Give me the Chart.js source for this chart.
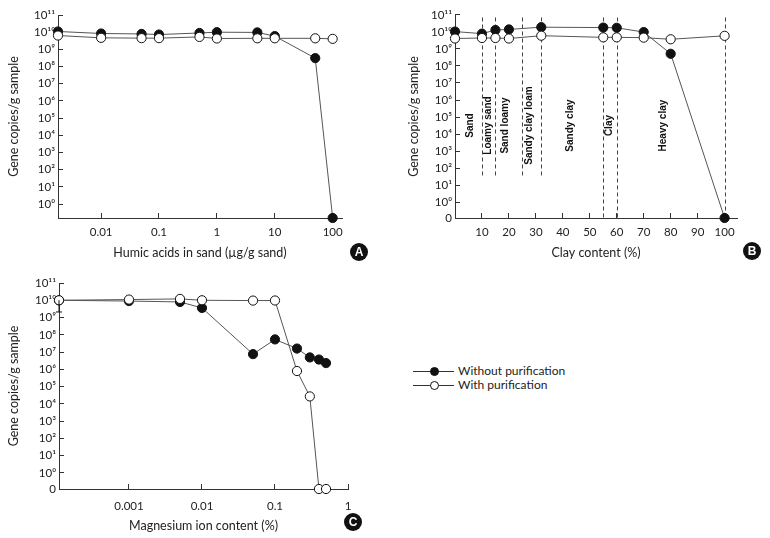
<!DOCTYPE html>
<html>
<head>
<meta charset="utf-8">
<script src="https://cdn.jsdelivr.net/npm/chart.js@4.4.1/dist/chart.umd.min.js"></script>
<style>
  body { margin: 0; background: #fff; }
  #page { position: relative; width: 770px; height: 538px; overflow: hidden; }
  canvas { position: absolute; }
  .tag { position: absolute; width: 18px; height: 18px; border-radius: 50%; background: #111; color: #fff;
         font: bold 12px 'Liberation Sans', Arial, sans-serif; text-align: center; line-height: 18px; }
  .leg-line { position: absolute; width: 41px; height: 1px; background: #333; }
  .leg-dot { position: absolute; width: 7px; height: 7px; border: 1px solid #111; border-radius: 50%; }
  .leg-text { position: absolute; font: 12px 'Liberation Sans Narrow', Lato, sans-serif; color: #222; line-height: 14px; }
</style>
</head>
<body>
<div id="page">
  <canvas id="chartA" width="370" height="270" style="left:0;top:0"></canvas>
  <canvas id="chartB" width="390" height="270" style="left:380px;top:0"></canvas>
  <canvas id="chartC" width="380" height="276" style="left:0;top:262px"></canvas>
  <div class="tag" style="left:350px;top:243px">A</div>
  <div class="tag" style="left:743px;top:242px">B</div>
  <div class="tag" style="left:344px;top:513px">C</div>
  <div id="legend"></div>
</div>
<script>
// A: humic acids in sand
const humicX = [0.0018, 0.01, 0.05, 0.1, 0.5, 1, 5, 10, 50, 100];
const humicWithout = [1.1e10, 8.4e9, 7.9e9, 7.3e9, 9e9, 1e10, 9.7e9, 5.9e9, 3.1e8, 0];
const humicWith = [6.4e9, 4.7e9, 4.5e9, 4.5e9, 5.3e9, 4.3e9, 4.4e9, 4.4e9, 4.4e9, 4.1e9];
const humicTicks = [0.01, 0.1, 1, 10, 100];

// B: clay content
const clayX = [0, 10, 15, 20, 32, 55, 60, 70, 80, 100];
const clayWithout = [1.05e10, 7.9e9, 1.3e10, 1.4e10, 1.9e10, 1.8e10, 1.75e10, 9.8e9, 5.2e8, 0];
const clayWith = [4.1e9, 4.4e9, 4.4e9, 4.1e9, 6e9, 4.8e9, 4.8e9, 4.6e9, 3.7e9, 5.9e9];
const clayTicks = [10, 20, 30, 40, 50, 60, 70, 80, 90, 100];
const soilBounds = [10, 15, 25, 32, 55, 60, 100];
const soilBoundFull = [false, false, false, false, true, true, true];
const soilNames = ['Sand', 'Loamy sand', 'Sand loamy', 'Sandy clay loam', 'Sandy clay', 'Clay', 'Heavy clay'];
const soilNameX = [5.6, 12.3, 18.5, 27.4, 42.6, 57.4, 77.2];

// C: magnesium ions
const mgX = [0.00011, 0.001, 0.005, 0.01, 0.05, 0.1, 0.2, 0.3, 0.4, 0.5];
const mgWithout = [1e10, 9e9, 8e9, 3.6e9, 7.6e6, 5.4e7, 1.6e7, 4.9e6, 3.7e6, 2.3e6];
const mgWithoutLow = [2.1e9, null, null, null, null, null, null, null, 2.2e6, null];
const mgWith = [1e10, 1.1e10, 1.2e10, 1e10, 9.6e9, 9.7e9, 8e5, 2.7e4, 0, 0];
const mgTicks = [0.001, 0.01, 0.1, 1];

const seriesNames = ['Without purification', 'With purification'];
const decadeTicks = [0, 1, 2, 3, 4, 5, 6, 7, 8, 9, 10, 11];

const FONT = "'Liberation Sans Narrow', Lato, 'DejaVu Sans', sans-serif";
const INK = '#222';
const LINE = '#555';

function toLog(v, zero) {
    return v === 0 ? zero : Math.log10(v);
}

function pow10(n) {
    const sup = '⁰¹²³⁴⁵⁶⁷⁸⁹';
    return '10' + String(n).split('').map(d => sup[d]).join('');
}

function series(xs, ys, zero, filled) {
    return {
        label: filled ? seriesNames[0] : seriesNames[1],
        data: xs.map((x, i) => ({ x: x, y: toLog(ys[i], zero) })),
        borderColor: LINE,
        borderWidth: 1,
        pointRadius: 4.6,
        pointBorderWidth: 1,
        pointBorderColor: '#111',
        pointBackgroundColor: filled ? '#111' : '#fff',
        clip: false,
        order: filled ? 1 : 0
    };
}

// soil class boundaries and names for panel B
const soilPlugin = {
    id: 'soil',
    beforeDatasetsDraw(chart) {
        const { ctx, scales: { x, y } } = chart;
        ctx.save();
        ctx.strokeStyle = '#444';
        ctx.lineWidth = 1;
        ctx.setLineDash([4, 3]);
        soilBounds.forEach((b, i) => {
            const px = Math.round(x.getPixelForValue(b)) + 0.5;
            ctx.beginPath();
            ctx.moveTo(px, y.getPixelForValue(10.85));
            ctx.lineTo(px, soilBoundFull[i] ? y.bottom : y.getPixelForValue(1.45));
            ctx.stroke();
        });
        ctx.setLineDash([]);
        ctx.fillStyle = '#111';
        ctx.font = "bold 10px 'Liberation Sans', Arial, sans-serif";
        ctx.textAlign = 'center';
        ctx.textBaseline = 'middle';
        soilNames.forEach((name, i) => {
            ctx.save();
            ctx.translate(x.getPixelForValue(soilNameX[i]), y.getPixelForValue(4.5));
            ctx.rotate(-Math.PI / 2);
            ctx.fillText(name, 0, 0);
            ctx.restore();
        });
        ctx.restore();
    }
};

// lower error bars for panel C
const errorPlugin = {
    id: 'errs',
    afterDatasetsDraw(chart, args, opts) {
        if (!opts.low) return;
        const { ctx, scales: { x, y } } = chart;
        ctx.save();
        ctx.strokeStyle = '#111';
        ctx.lineWidth = 1;
        opts.low.forEach((v, i) => {
            if (v == null) return;
            const px = x.getPixelForValue(opts.xs[i]);
            const top = y.getPixelForValue(Math.log10(opts.ys[i]));
            const bot = y.getPixelForValue(Math.log10(v));
            ctx.beginPath();
            ctx.moveTo(px, top);
            ctx.lineTo(px, bot);
            ctx.moveTo(px - 3, bot);
            ctx.lineTo(px + 3, bot);
            ctx.stroke();
        });
        ctx.restore();
    }
};

function makePanel(id, p) {
    const isLog = p.xType === 'logarithmic';
    return new Chart(document.getElementById(id), {
        type: 'line',
        data: {
            datasets: [
                series(p.xs, p.without, p.yMin, true),
                series(p.xs, p.with, p.yMin, false)
            ]
        },
        options: {
            responsive: false,
            animation: false,
            events: [],
            layout: { padding: p.padding },
            plugins: {
                legend: { display: false },
                tooltip: { enabled: false },
                errs: p.errs || {}
            },
            scales: {
                x: {
                    type: p.xType,
                    min: p.xMin,
                    max: p.xMax,
                    afterBuildTicks: s => { s.ticks = p.xTicks.map(v => ({ value: v })); },
                    afterFit: s => { s.height = p.xH; },
                    ticks: {
                        autoSkip: false,
                        maxRotation: 0,
                        padding: p.xTickPad,
                        color: INK,
                        font: { family: FONT, size: 11.5 },
                        callback: v => isLog ? String(v) : v
                    },
                    grid: { drawOnChartArea: false, tickLength: -5, color: '#333' },
                    border: { color: '#333' },
                    title: {
                        display: true,
                        text: p.xTitle,
                        color: INK,
                        font: { family: FONT, size: 12.5 },
                        padding: { top: 0, bottom: p.xTitlePad }
                    }
                },
                y: {
                    type: 'linear',
                    min: p.yMin,
                    max: 11,
                    afterBuildTicks: s => {
                        s.ticks = decadeTicks.map(v => ({ value: v }));
                        if (p.zeroLabel) s.ticks.unshift({ value: p.yMin });
                    },
                    afterFit: s => { s.width = p.yW; },
                    ticks: {
                        autoSkip: false,
                        padding: 8,
                        color: INK,
                        font: { family: FONT, size: 11.5 },
                        callback: v => v === p.yMin ? '0' : pow10(v)
                    },
                    grid: { drawOnChartArea: false, tickLength: -5, color: '#333' },
                    border: { color: '#333' },
                    title: {
                        display: true,
                        text: 'Gene copies/g sample',
                        color: INK,
                        font: { family: FONT, size: 12.5 },
                        padding: { top: p.yTitlePad, bottom: 0 }
                    }
                }
            }
        },
        plugins: p.plugins || []
    });
}

makePanel('chartA', {
    xs: humicX, without: humicWithout, with: humicWith,
    xType: 'logarithmic', xMin: 0.0018, xMax: 145, xTicks: humicTicks,
    xTitle: 'Humic acids in sand (µg/g sand)',
    yMin: -0.81, zeroLabel: false,
    padding: { left: 0, top: 15, right: 28, bottom: 7 },
    yW: 58, xH: 45, xTickPad: 12, xTitlePad: 3, yTitlePad: 6
});

makePanel('chartB', {
    xs: clayX, without: clayWithout, with: clayWith,
    xType: 'linear', xMin: 0, xMax: 104.6, xTicks: clayTicks,
    xTitle: 'Clay content (%)',
    yMin: -0.93, zeroLabel: true,
    padding: { left: 0, top: 9, right: 33, bottom: 7 },
    yW: 75, xH: 45, xTickPad: 12, xTitlePad: 3, yTitlePad: 26,
    plugins: [soilPlugin]
});

makePanel('chartC', {
    xs: mgX, without: mgWithout, with: mgWith,
    xType: 'logarithmic', xMin: 0.00011, xMax: 1, xTicks: mgTicks,
    xTitle: 'Magnesium ion content (%)',
    yMin: -0.93, zeroLabel: true,
    padding: { left: 0, top: 21, right: 32, bottom: 5 },
    yW: 59, xH: 44, xTickPad: 15, xTitlePad: 0, yTitlePad: 6,
    plugins: [errorPlugin],
    errs: { low: mgWithoutLow, xs: mgX, ys: mgWithout }
});

// legend
const legend = document.getElementById('legend');
seriesNames.forEach((name, i) => {
    const cy = 371 + i * 13.5;
    legend.insertAdjacentHTML('beforeend',
        `<div class="leg-line" style="left:413px;top:${cy}px"></div>` +
        `<div class="leg-dot" style="left:430px;top:${cy - 4}px;background:${i === 0 ? '#111' : '#fff'}"></div>` +
        `<div class="leg-text" style="left:458px;top:${cy - 7}px">${name}</div>`);
});
</script>
</body>
</html>
